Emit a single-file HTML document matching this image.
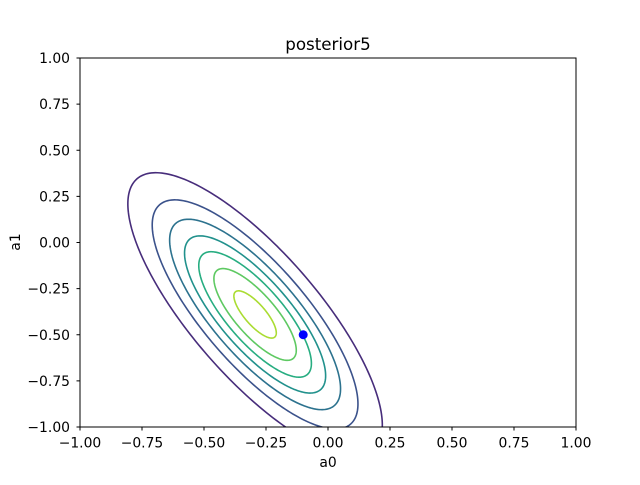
<!DOCTYPE html>
<html><head><meta charset="utf-8"><style>
body{margin:0;background:#fff;}
svg text{font-family:"DejaVu Sans","Liberation Sans",sans-serif;}
</style></head><body>
<svg id="chart" width="640" height="480" viewBox="0 0 640 480">
<defs><clipPath id="clip"><rect x="80" y="58" width="496" height="369"/></clipPath></defs>
<rect x="0" y="0" width="640" height="480" fill="#fff"/>
<g id="contours" clip-path="url(#clip)"></g>
<rect x="80" y="58" width="496" height="369" fill="none" stroke="#000" stroke-width="1"/>
<g id="ticks"></g>
<text x="328" y="50" text-anchor="middle" font-size="16.7">posterior5</text>
<text x="328" y="467" text-anchor="middle" font-size="13.9">a0</text>
<text x="20" y="242" text-anchor="middle" font-size="13.9" transform="rotate(-90 20 242)">a1</text>
</svg>
<script>
const xTicks=[-1,-0.75,-0.5,-0.25,0,0.25,0.5,0.75,1];
const yTicks=[-1,-0.75,-0.5,-0.25,0,0.25,0.5,0.75,1];
const center=[-0.294,-0.39];
const sigmas=[0.44,0.14];
const angleDeg=[-59];
const levels=[0.5,1,1.5,2,2.5,3,3.5];
const peak=[3.7];
const levelColors=["#472d7b","#3b528b","#2c728e","#21918c","#27ad81","#5ec962","#aadc32"];
const point=[-0.1,-0.5];
const NS="http://www.w3.org/2000/svg";
function X(v){return 80+(v+1)/2*496;}
function Y(v){return 427-(v+1)/2*369;}
const cg=document.getElementById('contours');
const th=angleDeg[0]*Math.PI/180, ux=Math.cos(th), uy=Math.sin(th);
levels.forEach((L,i)=>{
  const r=Math.sqrt(-2*Math.log(L/peak[0]));
  let d='';
  for(let k=0;k<=240;k++){
    const t=k/240*2*Math.PI;
    const a=r*sigmas[0]*Math.cos(t), b=r*sigmas[1]*Math.sin(t);
    const px=center[0]+a*ux-b*uy, py=center[1]+a*uy+b*ux;
    d+=(k?'L':'M')+X(px).toFixed(2)+' '+Y(py).toFixed(2);
  }
  const p=document.createElementNS(NS,'path');
  p.setAttribute('d',d+'Z');p.setAttribute('fill','none');
  p.setAttribute('stroke',levelColors[i]);p.setAttribute('stroke-width','1.6');
  
  
  cg.appendChild(p);
});
const dot=document.createElementNS(NS,'circle');
dot.setAttribute('cx',X(point[0]));dot.setAttribute('cy',Y(point[1]));dot.setAttribute('r','4.5');dot.setAttribute('fill','#0000ff');


document.getElementById('chart').appendChild(dot);
const tg=document.getElementById('ticks');
function add(tag,attrs){const e=document.createElementNS(NS,tag);for(const k in attrs)e.setAttribute(k,attrs[k]);tg.appendChild(e);return e;}
xTicks.forEach(v=>{
  const l=add('line',{x1:X(v),x2:X(v),y1:427,y2:430.5,stroke:'#000'});
  
  
  const t=add('text',{x:X(v),y:447.5,'text-anchor':'middle','font-size':'13.9'});t.textContent=v.toFixed(2).replace('-','−');
  
  
});
yTicks.forEach(v=>{
  const l=add('line',{x1:76.5,x2:80,y1:Y(v),y2:Y(v),stroke:'#000'});
  
  
  const t=add('text',{x:70,y:Y(v)+5,'text-anchor':'end','font-size':'13.9'});t.textContent=v.toFixed(2).replace('-','−');
  
  
});
</script>
</body></html>
